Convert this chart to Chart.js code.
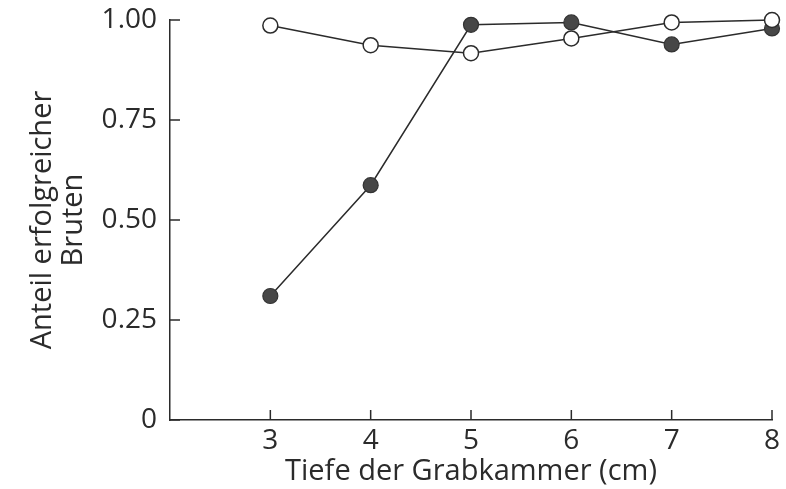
<!DOCTYPE html>
<html>
<head>
<meta charset="utf-8">
<script src="https://cdn.jsdelivr.net/npm/chart.js@4"></script>
<style>
    html, body { margin: 0; padding: 0; background: #ffffff; }
    #wrap { width: 786px; height: 489px; }
</style>
</head>
<body>
<div id="wrap"><canvas id="chart" width="786" height="489"></canvas></div>
<script>
const depths = [3, 4, 5, 6, 7, 8];
const openValues = [0.986, 0.937, 0.917, 0.954, 0.994, 1.0];
const filledValues = [0.31, 0.587, 0.988, 0.994, 0.939, 0.979];
const xTicks = [3, 4, 5, 6, 7, 8];
const yTicks = [0, 0.25, 0.5, 0.75, 1.0];
const yTickLabels = ["0", "0.25", "0.50", "0.75", "1.00"];

const ink = "#2b2b2b";
const font = "'Open Sans', 'Noto Sans', sans-serif";

function points(values) {
    return depths.map((d, i) => ({ x: d, y: values[i] }));
}

// inward tick marks, drawn at the scale's own pixel positions
const innerTicks = {
    id: "innerTicks",
    afterDraw(chart) {
        const ctx = chart.ctx;
        const xs = chart.scales.x;
        const ys = chart.scales.y;
        const area = chart.chartArea;
        ctx.save();
        ctx.strokeStyle = ink;
        ctx.lineWidth = 1.5;
        ctx.beginPath();
        xTicks.forEach(v => {
            const px = xs.getPixelForValue(v);
            ctx.moveTo(px, area.bottom);
            ctx.lineTo(px, area.bottom - 10);
        });
        yTicks.forEach(v => {
            const py = ys.getPixelForValue(v);
            ctx.moveTo(area.left, py);
            ctx.lineTo(area.left + 10, py);
        });
        ctx.stroke();
        ctx.restore();
    }
};

const chart = new Chart(document.getElementById("chart"), {
    type: "line",
    data: {
        datasets: [
            {
                label: "offen",
                data: points(openValues),
                borderColor: ink,
                borderWidth: 1.5,
                backgroundColor: "#ffffff",
                pointBackgroundColor: "#ffffff",
                pointBorderColor: ink,
                pointBorderWidth: 1.5,
                pointRadius: 7.5,
                tension: 0
            },
            {
                label: "gefüllt",
                data: points(filledValues),
                borderColor: ink,
                borderWidth: 1.5,
                backgroundColor: "#444444",
                pointBackgroundColor: "#474747",
                pointBorderColor: "#333333",
                pointBorderWidth: 1.2,
                pointRadius: 7.5,
                tension: 0
            }
        ]
    },
    options: {
        responsive: false,
        animation: false,
        clip: false,
        layout: { padding: { top: 20, right: 14, left: 0, bottom: 0 } },
        plugins: {
            legend: { display: false },
            tooltip: { enabled: false }
        },
        scales: {
            x: {
                type: "linear",
                min: 2,
                max: 8,
                afterFit: s => { s.height = 69; s.paddingLeft = 0; s.paddingRight = 0; },
                afterBuildTicks: s => { s.ticks = xTicks.map(v => ({ value: v })); },
                grid: { display: true, drawOnChartArea: false, drawTicks: false },
                border: { display: true, color: ink, width: 1.5 },
                ticks: {
                    color: ink,
                    padding: 4,
                    font: { family: font, size: 28 },
                    callback: v => String(v)
                },
                title: {
                    display: true,
                    text: "Tiefe der Grabkammer (cm)",
                    color: ink,
                    font: { family: font, size: 29 },
                    padding: { top: 0, bottom: 0 }
                }
            },
            y: {
                min: 0,
                max: 1,
                afterFit: s => { s.width = 170; s.paddingTop = 0; s.paddingBottom = 0; },
                afterBuildTicks: s => { s.ticks = yTicks.map(v => ({ value: v })); },
                grid: { display: true, drawOnChartArea: false, drawTicks: false },
                border: { display: true, color: ink, width: 1.5 },
                ticks: {
                    color: ink,
                    padding: 13,
                    font: { family: font, size: 28 },
                    callback: v => yTickLabels[yTicks.indexOf(v)]
                },
                title: {
                    display: true,
                    text: ["Anteil erfolgreicher", "Bruten"],
                    color: ink,
                    font: { family: font, size: 29, lineHeight: 1.05 },
                    padding: { top: 28, bottom: 0 }
                }
            }
        }
    },
    plugins: [innerTicks]
});
</script>
</body>
</html>
